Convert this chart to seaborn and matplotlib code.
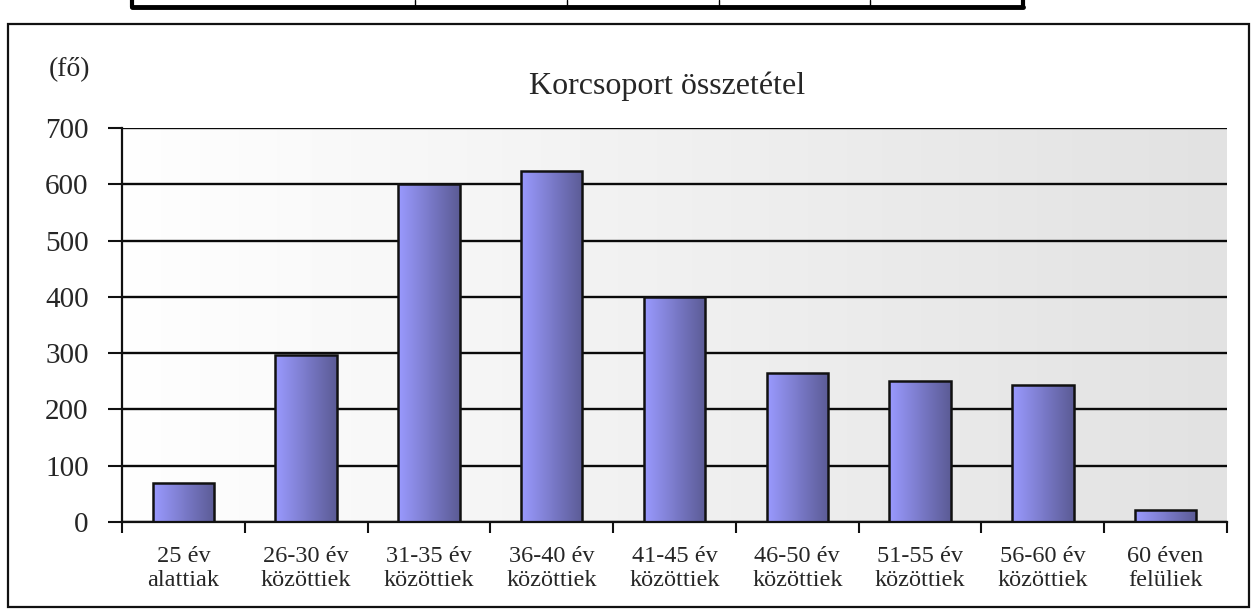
import numpy as np
import pandas as pd
import matplotlib
matplotlib.use('Agg')
import matplotlib.pyplot as plt
import seaborn as sns
from matplotlib.colors import LinearSegmentedColormap
from matplotlib.lines import Line2D
from matplotlib.patches import Rectangle

# adatok
korcsoportok = ['25 év\nalattiak', '26-30 év\nközöttiek', '31-35 év\nközöttiek',
                '36-40 év\nközöttiek', '41-45 év\nközöttiek', '46-50 év\nközöttiek',
                '51-55 év\nközöttiek', '56-60 év\nközöttiek', '60 éven\nfelüliek']
letszam = [70, 297, 600, 623, 400, 264, 251, 244, 21]
y_ticks = [0, 100, 200, 300, 400, 500, 600, 700]

df = pd.DataFrame({'korcsoport': korcsoportok, 'fo': letszam})

sns.set_style('white')
plt.rcParams['font.family'] = ['Liberation Serif', 'DejaVu Serif']

W, H = 1252, 613
fig = plt.figure(figsize=(W / 100, H / 100), dpi=100)
ax = fig.add_axes([122 / W, 1 - 522 / H, (1227 - 122) / W, (522 - 128) / H])

# háttér színátmenet (fehér -> világosszürke)
bg_cmap = LinearSegmentedColormap.from_list('bg', ['#ffffff', '#e2e2e2'])
grad = np.linspace(0, 1, 256).reshape(1, -1)
ax.imshow(grad, extent=[0, 1, 0, 1], transform=ax.transAxes, cmap=bg_cmap,
          aspect='auto', zorder=0)

sns.barplot(data=df, x='korcsoport', y='fo', ax=ax, width=0.5,
            color='#8080e0', edgecolor='#111111', linewidth=1.8, zorder=3)

# oszlopok színátmenete
bar_cmap = LinearSegmentedColormap.from_list('bar', ['#9a9aff', '#5b5b95'])
for p in ax.patches:
    x0, y0, w, h = p.get_x(), p.get_y(), p.get_width(), p.get_height()
    im = ax.imshow(grad, extent=[x0, x0 + w, y0, y0 + h], cmap=bar_cmap,
                   aspect='auto', zorder=2.5)
    im.set_clip_path(p)
    p.set_facecolor('none')

ax.set_xlim(-0.5, len(korcsoportok) - 0.5)
ax.set_ylim(0, 700)
ax.set_yticks(y_ticks)
ax.yaxis.grid(True, color='#0a0a0a', linewidth=1.7)
ax.set_axisbelow(True)
for gl in ax.get_ygridlines():
    gl.set_zorder(1)

ax.set_xlabel('')
ax.set_ylabel('')
ax.tick_params(axis='y', labelsize=21, length=10, width=1.5, pad=14,
               direction='out', left=True, color='#111111')
ax.tick_params(axis='x', labelsize=17.5, length=0, pad=17)
ax.set_xticks(np.arange(-0.5, len(korcsoportok), 1), minor=True)
ax.tick_params(axis='x', which='minor', length=8, width=1.5, direction='out',
               bottom=True, color='#111111')
for lbl in ax.get_xticklabels():
    lbl.set_linespacing(1.2)

for s in ['top', 'right']:
    ax.spines[s].set_visible(False)
for s in ['left', 'bottom']:
    ax.spines[s].set_color('#111111')
    ax.spines[s].set_linewidth(1.6)

fig.text(667 / W, 1 - 86 / H, 'Korcsoport összetétel', fontsize=23,
         ha='center', va='center')
fig.text(70 / W, 1 - 70 / H, '(fő)', fontsize=20, ha='center', va='center')

# diagram kerete
fig.patches.append(Rectangle((8 / W, 1 - 607 / H), (1249 - 8) / W, (607 - 24) / H,
                             transform=fig.transFigure, fill=False,
                             edgecolor='#111111', linewidth=1.6))

# a fenti táblázat alja
fig.add_artist(Line2D([132 / W, 1023 / W], [1 - 7 / H, 1 - 7 / H],
                      transform=fig.transFigure, color='black', linewidth=3.5))
for xv, lw in [(132, 3), (415, 1), (567, 1), (719, 1), (870, 1), (1023, 3)]:
    fig.add_artist(Line2D([xv / W, xv / W], [1 - 7 / H, 1.0],
                          transform=fig.transFigure, color='black', linewidth=lw))

fig.savefig('out.png', dpi=100)
